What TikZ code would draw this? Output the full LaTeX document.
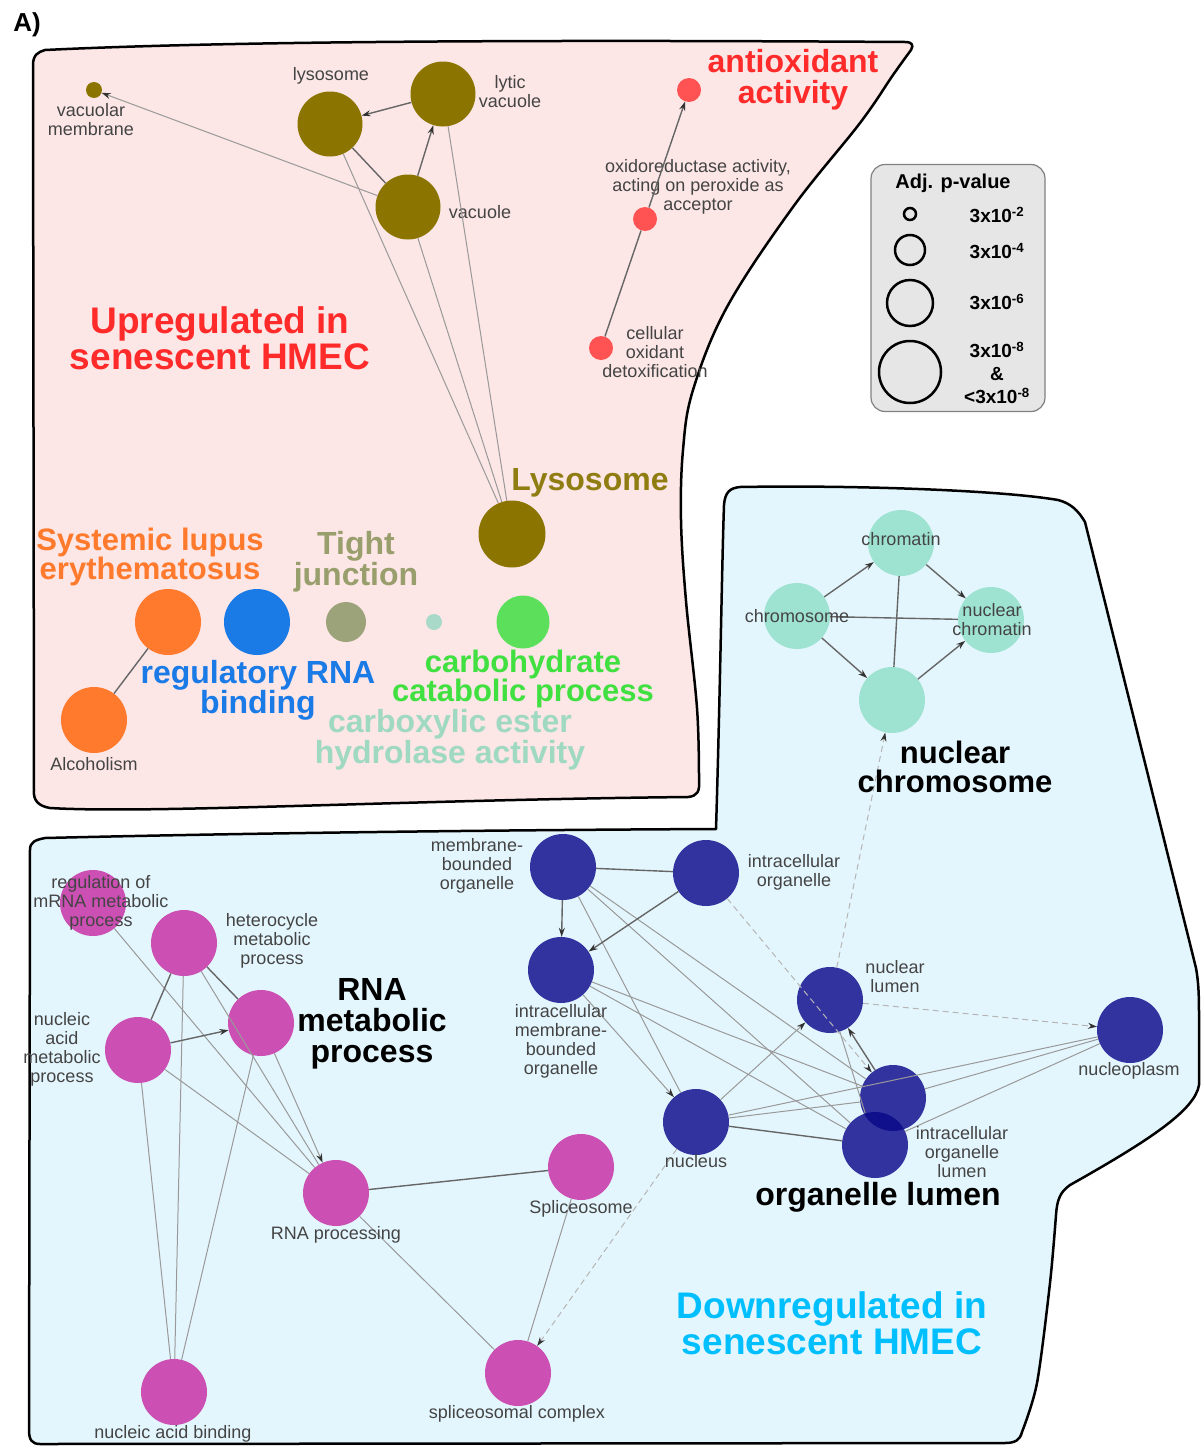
\documentclass[tikz,border=0pt]{standalone}
\usepackage{fontspec}
\setmainfont{Liberation Sans}
\usetikzlibrary{arrows.meta}

\definecolor{upfill}{HTML}{FCE6E6}
\definecolor{downfill}{HTML}{E4F6FD}
\definecolor{vacolive}{HTML}{8B7500}
\definecolor{lysotext}{HTML}{8F7D12}
\definecolor{oxred}{HTML}{FF5252}
\definecolor{antitext}{HTML}{FF2A2A}
\definecolor{sleorange}{HTML}{FF7A2C}
\definecolor{rnablue}{HTML}{1A7BE6}
\definecolor{tightnode}{HTML}{9CA27A}
\definecolor{tighttext}{HTML}{989E6C}
\definecolor{esternode}{HTML}{A8D9C9}
\definecolor{estertext}{HTML}{9FD9C2}
\definecolor{carbnode}{HTML}{5CE05C}
\definecolor{carbtext}{HTML}{3FE03F}
\definecolor{chromteal}{HTML}{9EE3D1}
\definecolor{lumenblue}{HTML}{3333A0}
\definecolor{overlapblue}{HTML}{10108C}
\definecolor{rnamag}{HTML}{CC4FB4}
\definecolor{downcyan}{HTML}{00BFFF}
\definecolor{labelgray}{HTML}{444444}
\definecolor{linkgray}{HTML}{999999}
\definecolor{darklink}{HTML}{666666}
\definecolor{dashgray}{HTML}{B5B5B5}
\definecolor{legendfill}{HTML}{E6E6E6}

\begin{document}
\begin{tikzpicture}[x=1pt,y=-1pt,>={Stealth[length=9pt,width=6pt,color=black!80]},
    region/.style={draw=black,line width=2.5pt,line join=round},
    goterm/.style 2 args={circle,fill=#1,minimum size=#2,inner sep=0pt,draw=none},
    lbl/.style={text=labelgray,font=\fontsize{18}{19}\selectfont,align=center,inner sep=0pt},
    biglbl/.style={font=\bfseries\fontsize{32}{31}\selectfont,align=center,inner sep=0pt},
    titlelbl/.style={font=\bfseries\fontsize{37}{36}\selectfont,align=center,inner sep=0pt},
    link/.style={draw=linkgray,line width=1pt},
    strong/.style={draw=darklink,line width=1.4pt},
    dirlink/.style={link,->},
    dashlink/.style={draw=dashgray,line width=1pt,dash pattern=on 6pt off 4pt,->},
    ring/.style={circle,draw=black,line width=2.5pt,inner sep=0pt},
    legtext/.style={font=\bfseries\fontsize{19}{23}\selectfont,align=center,inner sep=0pt}]
\useasboundingbox (0,0) rectangle (1202,1448);

% upregulated region
\draw[region,fill=upfill]
    (45,50) .. controls (250,40) and (600,40) .. (905,42)
    .. controls (912,42) and (914,45) .. (911,50)
    -- plot[smooth,tension=0.6] coordinates {(911,50) (893,75) (860,123) (793,207) (727,307) (693,390) (683,450) (681,520) (686,601) (697,708) (699,780)}
    .. controls (700,792) and (697,796) .. (688,797)
    .. controls (400,800) and (150,814) .. (50,808)
    .. controls (38,806) and (33,800) .. (34,790)
    -- (33,65) .. controls (33,55) and (38,52) .. (45,50) -- cycle;

% downregulated region
\draw[region,fill=downfill]
    (740,487) .. controls (850,485) and (1000,490) .. (1058,500)
    .. controls (1070,503) and (1078,510) .. (1085,522)
    -- (1196,968) .. controls (1199,985) and (1199,1000) .. (1199,1020)
    -- (1199,1085)
    .. controls (1195,1110) and (1150,1140) .. (1070,1185)
    .. controls (1060,1192) and (1057,1200) .. (1056,1215)
    -- plot[smooth] coordinates {(1056,1215) (1050,1283) (1037,1383) (1022,1432)}
    .. controls (1020,1440) and (1015,1443) .. (1005,1443)
    -- (40,1444) .. controls (32,1444) and (29,1440) .. (29,1430)
    -- (30,850) .. controls (30,842) and (35,840) .. (45,838)
    .. controls (250,833) and (500,830) .. (716,829)
    .. controls (720,700) and (722,560) .. (724,505)
    .. controls (725,492) and (730,488) .. (740,487) -- cycle;

\node[font=\bfseries\fontsize{26}{26}\selectfont,inner sep=0pt] (panel) at (27,25) {A)};

% legend
\node[draw=gray,line width=1.2pt,fill=legendfill,rounded corners=14pt,
      minimum width=174pt,minimum height=247pt] (legend) at (958,288) {};
\node[font=\bfseries\fontsize{20}{20}\selectfont,inner sep=0pt] (legtitle) at (953,183) {Adj. p-value};
\node[ring,minimum size=12pt] (p2) at (910,214) {};
\node[ring,minimum size=30pt] (p4) at (910,250) {};
\node[ring,minimum size=46pt] (p6) at (910,303) {};
\node[ring,minimum size=62pt] (p8) at (910,372) {};
\node[legtext] (p2t) at (997,215) {3x10\textsuperscript{-2}};
\node[legtext] (p4t) at (997,251) {3x10\textsuperscript{-4}};
\node[legtext] (p6t) at (997,302) {3x10\textsuperscript{-6}};
\node[legtext] (p8t) at (997,373) {3x10\textsuperscript{-8}\\\&\\<3x10\textsuperscript{-8}};

% upregulated terms
\node[goterm={vacolive}{16pt}] (vacmem) at (94,90) {};
\node[goterm={vacolive}{65pt}] (lyso) at (330,124) {};
\node[goterm={vacolive}{65pt}] (lytvac) at (443,94) {};
\node[goterm={vacolive}{65pt}] (vac) at (408,207) {};
\node[goterm={vacolive}{67pt}] (lysokegg) at (512,534) {};
\node[goterm={oxred}{24pt}] (antiox) at (689,90) {};
\node[goterm={oxred}{24pt}] (oxido) at (645,219) {};
\node[goterm={oxred}{24pt}] (detox) at (601,348) {};
\node[goterm={sleorange}{66pt}] (sle) at (168,622) {};
\node[goterm={sleorange}{66pt}] (alcohol) at (94,720) {};
\node[goterm={rnablue}{66pt}] (regrna) at (257,622) {};
\node[goterm={tightnode}{40pt}] (tight) at (346,622) {};
\node[goterm={esternode}{16pt}] (ester) at (434,622) {};
\node[goterm={carbnode}{53pt}] (carb) at (523,622) {};

\node[lbl] (vacmem-t) at (91,120) {vacuolar\\membrane};
\node[lbl] (lyso-t) at (331,76) {lysosome};
\node[lbl] (lytvac-t) at (510,92) {lytic\\vacuole};
\node[lbl] (vac-t) at (480,212) {vacuole};
\node[lbl] (oxido-t) at (698,187) {oxidoreductase activity,\\acting on peroxide as\\acceptor};
\node[lbl] (detox-t) at (655,352) {cellular\\oxidant\\detoxification};
\node[lbl] (alcohol-t) at (94,764) {Alcoholism};

\node[titlelbl,text=antitext] (up-t) at (220,338) {Upregulated in\\senescent HMEC};
\node[biglbl,text=antitext] (antiox-t) at (793,80) {antioxidant\\activity};
\node[biglbl,text=lysotext] (lysokegg-t) at (590,483) {Lysosome};
\node[biglbl,text=sleorange,font=\bfseries\fontsize{31}{24}\selectfont] (sle-t) at (150,557) {Systemic lupus\\erythematosus};
\node[biglbl,text=tighttext] (tight-t) at (356,562) {Tight\\junction};
\node[biglbl,text=rnablue,font=\bfseries\fontsize{32}{30}\selectfont] (regrna-t) at (258,690) {regulatory RNA\\binding};
\node[biglbl,text=carbtext,font=\bfseries\fontsize{31}{27}\selectfont] (carb-t) at (523,679) {carbohydrate\\catabolic process};
\node[biglbl,text=estertext] (ester-t) at (450,740) {carboxylic ester\\hydrolase activity};

\path
    (lytvac) edge[strong,->]        (lyso)
    (vac)    edge[strong,->]        (lytvac)
             edge[strong]           (lyso)
             edge[link,->]          (vacmem)
             edge[link]             (lysokegg)
    (lyso)   edge[link]             (lysokegg)
    (lytvac) edge[link]             (lysokegg)
    (detox)  edge[strong]           (oxido)
    (oxido)  edge[strong,->]        (antiox)
    (sle)    edge[strong]           (alcohol);

% downregulated terms
\node[goterm={chromteal}{66pt}] (chromatin) at (901,543) {};
\node[goterm={chromteal}{66pt}] (chromosome) at (797,616) {};
\node[goterm={chromteal}{66pt}] (nucchromatin) at (991,620) {};
\node[goterm={chromteal}{66pt}] (nucchromosome) at (892,700) {};

\node[goterm={lumenblue}{66pt}] (membound) at (563,867) {};
\node[goterm={lumenblue}{66pt}] (intraorg) at (706,873) {};
\node[goterm={lumenblue}{66pt}] (intramem) at (561,970) {};
\node[goterm={lumenblue}{66pt}] (nuclumen) at (830,1000) {};
\node[goterm={lumenblue}{66pt}] (nucleoplasm) at (1130,1030) {};
\node[goterm={lumenblue}{66pt}] (nucleus) at (696,1122) {};
\node[goterm={lumenblue}{66pt}] (orglumen) at (875,1145) {};
\node[goterm={lumenblue}{66pt}] (intralumen) at (893,1098) {};
\begin{scope}
  \clip (orglumen.center) circle (33pt);
  \fill[overlapblue] (intralumen.center) circle (33pt);
\end{scope}

\node[goterm={rnamag}{66pt}] (regmrna) at (93,903) {};
\node[goterm={rnamag}{66pt}] (hetero) at (184,943) {};
\node[goterm={rnamag}{66pt}] (nucacidmet) at (138,1050) {};
\node[goterm={rnamag}{66pt}] (rnamet) at (261,1023) {};
\node[goterm={rnamag}{66pt}] (rnaproc) at (336,1193) {};
\node[goterm={rnamag}{66pt}] (splice) at (581,1167) {};
\node[goterm={rnamag}{66pt}] (splicecx) at (518,1373) {};
\node[goterm={rnamag}{66pt}] (nucacidbind) at (174,1392) {};

\path
    (chromosome)    edge[strong,->] (chromatin)
                    edge[strong,->] (nucchromosome)
                    edge[strong]    (nucchromatin)
    (chromatin)     edge[strong,->] (nucchromatin)
                    edge[strong]    (nucchromosome)
    (nucchromosome) edge[strong,->] (nucchromatin)
    (nuclumen)      edge[dashlink]  (nucchromosome)
                    edge[dashlink]  (nucleoplasm)
                    edge[link]      (orglumen)
    (membound)      edge[strong]    (intraorg)
                    edge[strong,->] (intramem)
                    edge[link]      (nucleus)
                    edge[link]      (intralumen)
                    edge[link]      (orglumen)
    (intraorg)      edge[strong,->] (intramem)
                    edge[dashlink]  (intralumen)
    (intramem)      edge[dirlink]   (nucleus)
                    edge[link]      (intralumen)
                    edge[link]      (orglumen)
    (nucleus)       edge[dirlink]   (nuclumen)
                    edge[link]      (intralumen)
                    edge[strong]    (orglumen)
                    edge[link]      (nucleoplasm)
                    edge[dashlink]  (splicecx)
    (intralumen)    edge[strong,->] (nuclumen)
    (nucleoplasm)   edge[link]      (intralumen)
                    edge[link]      (orglumen)
    (regmrna)       edge[link]      (rnaproc)
    (hetero)        edge[strong]    (nucacidmet)
                    edge[strong]    (rnamet)
                    edge[link]      (rnaproc)
                    edge[link]      (nucacidbind)
    (nucacidmet)    edge[strong,->] (rnamet)
                    edge[link]      (rnaproc)
                    edge[link]      (nucacidbind)
    (rnamet)        edge[dirlink]   (rnaproc)
                    edge[link]      (nucacidbind)
    (rnaproc)       edge[strong]    (splice)
                    edge[link]      (splicecx)
    (splice)        edge[link]      (splicecx);

\node[lbl] (chromatin-t) at (901,539) {chromatin};
\node[lbl] (chromosome-t) at (797,616) {chromosome};
\node[lbl] (nucchromatin-t) at (992,620) {nuclear\\chromatin};
\node[lbl] (membound-t) at (477,866) {membrane-\\bounded\\organelle};
\node[lbl] (intraorg-t) at (794,872) {intracellular\\organelle};
\node[lbl] (intramem-t) at (561,1041) {intracellular\\membrane-\\bounded\\organelle};
\node[lbl] (nuclumen-t) at (895,977) {nuclear\\lumen};
\node[lbl] (nucleoplasm-t) at (1129,1071) {nucleoplasm};
\node[lbl] (nucleus-t) at (696,1161) {nucleus};
\node[lbl] (intralumen-t) at (962,1152) {intracellular\\organelle\\lumen};
\node[lbl] (regmrna-t) at (101,903) {regulation of\\mRNA metabolic\\process};
\node[lbl] (hetero-t) at (272,941) {heterocycle\\metabolic\\process};
\node[lbl] (nucacidmet-t) at (62,1049) {nucleic\\acid\\metabolic\\process};
\node[lbl] (rnaproc-t) at (336,1235) {RNA processing};
\node[lbl] (splice-t) at (581,1209) {Spliceosome};
\node[lbl] (splicecx-t) at (517,1414) {spliceosomal complex};
\node[lbl] (nucacidbind-t) at (173,1434) {nucleic acid binding};

\node[biglbl,font=\bfseries\fontsize{31}{29}\selectfont] (nucchromosome-t) at (955,767) {nuclear\\chromosome};
\node[biglbl] (rnamet-t) at (372,1024) {RNA\\metabolic\\process};
\node[biglbl] (orglumen-t) at (878,1197) {organelle lumen};
\node[titlelbl,text=downcyan] (down-t) at (832,1323) {Downregulated in\\senescent HMEC};
\end{tikzpicture}
\end{document}
